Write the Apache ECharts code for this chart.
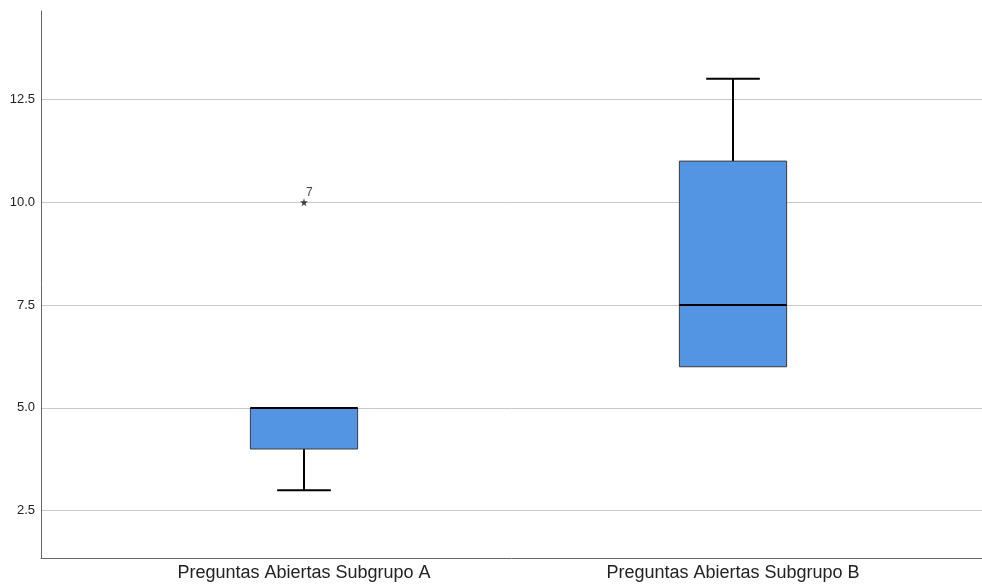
<!DOCTYPE html>
<html>
<head>
<meta charset="utf-8">
<script src="https://cdn.jsdelivr.net/npm/echarts@6/dist/echarts.min.js"></script>
<style>
html,body{margin:0;padding:0;background:#fff;}
#chart{width:982px;height:586px;}
</style>
</head>
<body>
<div id="chart"></div>
<script>
const categories = ['Preguntas Abiertas Subgrupo A', 'Preguntas Abiertas Subgrupo B'];
// [min, Q1, median, Q3, max]
const boxStats = [
  [3, 4, 5, 5, 5],
  [6, 6, 7.5, 11, 13]
];
const outliers = [[0, 10, '7']];
const yTicks = [2.5, 5, 7.5, 10, 12.5];
const yMin = 1.35, yMax = 14.65;

const chart = echarts.init(document.getElementById('chart'));

const boxData = boxStats.map((s, i) => [i].concat(s));

function renderBox(params, api) {
  const i = api.value(0);
  const pMin = api.coord([i, api.value(1)]);
  const pQ1 = api.coord([i, api.value(2)]);
  const pMed = api.coord([i, api.value(3)]);
  const pQ3 = api.coord([i, api.value(4)]);
  const pMax = api.coord([i, api.value(5)]);
  const band = api.size([1, 0])[0];
  const bw = band * 0.25;
  const cw = bw / 2;
  const cx = pMed[0];
  const lineStyle = { stroke: '#000', lineWidth: 2 };
  const children = [];
  if (pMax[1] < pQ3[1] - 0.5) {
    children.push({ type: 'line', shape: { x1: cx, y1: pQ3[1], x2: cx, y2: pMax[1] }, style: lineStyle });
    children.push({ type: 'line', shape: { x1: cx - cw / 2, y1: pMax[1], x2: cx + cw / 2, y2: pMax[1] }, style: lineStyle });
  }
  if (pMin[1] > pQ1[1] + 0.5) {
    children.push({ type: 'line', shape: { x1: cx, y1: pQ1[1], x2: cx, y2: pMin[1] }, style: lineStyle });
    children.push({ type: 'line', shape: { x1: cx - cw / 2, y1: pMin[1], x2: cx + cw / 2, y2: pMin[1] }, style: lineStyle });
  }
  children.push({
    type: 'rect',
    shape: { x: cx - bw / 2, y: pQ3[1], width: bw, height: pQ1[1] - pQ3[1] },
    style: { fill: '#5495e3', stroke: '#3a3a3a', lineWidth: 1 }
  });
  children.push({ type: 'line', shape: { x1: cx - bw / 2, y1: pMed[1], x2: cx + bw / 2, y2: pMed[1] }, style: { stroke: '#000', lineWidth: 2 } });
  return { type: 'group', children: children };
}

const starPath = 'path://M50,0 L61,35 L98,35 L68,57 L79,91 L50,70 L21,91 L32,57 L2,35 L39,35 Z';

chart.setOption({
  animation: false,
  backgroundColor: '#fff',
  grid: [
    { left: 41, right: 0, top: 11, bottom: 28 },
    { left: 89.5, right: 34.5, top: 11, bottom: 28 }
  ],
  xAxis: [
    {
      gridIndex: 0, type: 'value', min: 0, max: 1,
      axisLine: { show: true, onZero: false, lineStyle: { color: '#666', width: 1 } },
      axisTick: { show: false }, axisLabel: { show: false }, splitLine: { show: false }
    },
    {
      gridIndex: 1, type: 'category', data: categories,
      axisLine: { show: false }, axisTick: { show: false }, splitLine: { show: false },
      axisLabel: { fontSize: 18, color: '#222', fontFamily: 'Liberation Sans, Arial, sans-serif', margin: 6 }
    }
  ],
  yAxis: [
    {
      gridIndex: 0, type: 'value', min: yMin, max: yMax,
      axisLine: { show: true, lineStyle: { color: '#666', width: 1 } },
      axisTick: { show: false, customValues: yTicks },
      axisLabel: {
        customValues: yTicks, fontSize: 13, color: '#222', margin: 6,
        fontFamily: 'Liberation Sans, Arial, sans-serif',
        formatter: v => Number(v).toFixed(1)
      },
      splitLine: { show: true, lineStyle: { color: '#c8c8c8', width: 1 } }
    },
    {
      gridIndex: 1, type: 'value', min: yMin, max: yMax,
      axisLine: { show: false }, axisTick: { show: false }, axisLabel: { show: false }, splitLine: { show: false }
    }
  ],
  series: [
    {
      type: 'custom', xAxisIndex: 1, yAxisIndex: 1,
      renderItem: renderBox,
      encode: { x: 0, y: [1, 2, 3, 4, 5] },
      data: boxData,
      silent: true
    },
    {
      type: 'scatter', xAxisIndex: 1, yAxisIndex: 1,
      symbol: starPath, symbolSize: 8,
      itemStyle: { color: '#111' },
      data: outliers.map(o => ({ value: [o[0], o[1]], name: o[2] })),
      label: {
        show: true, position: [6, -12], formatter: p => p.name,
        fontSize: 12, color: '#111', fontFamily: 'Liberation Sans, Arial, sans-serif'
      },
      silent: true
    }
  ]
});
</script>
</body>
</html>
